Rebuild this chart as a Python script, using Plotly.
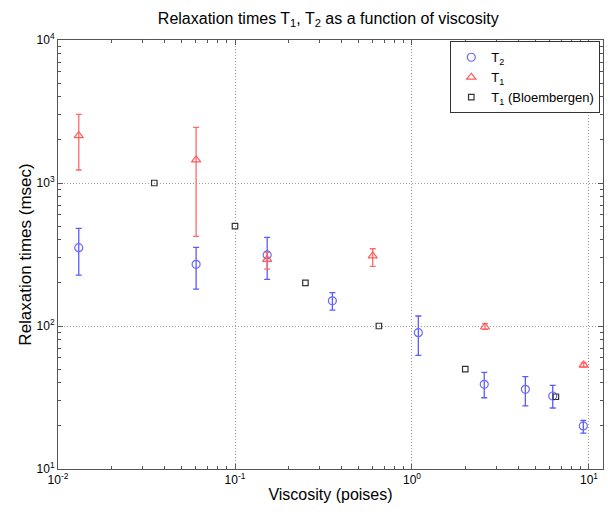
import plotly.graph_objects as go
import numpy as np

# T2 data
t2_x = [0.0131, 0.0603, 0.152, 0.355, 1.086, 2.56, 4.37, 6.24, 9.29]
t2_y = [353, 270, 314, 150, 89.8, 39.1, 36.1, 32.4, 20.0]
t2_hi = [482, 355, 417, 171, 117.5, 47.4, 44.2, 38.5, 21.9]
t2_lo = [227, 181, 212, 129, 62.4, 31.5, 27.6, 26.7, 17.8]

# T1 data
t1_x = [0.0131, 0.0603, 0.152, 0.600, 2.585, 9.33]
t1_y = [2143, 1449, 292, 309, 98.4, 53.3]
t1_hi = [3020, 2449, 327, 347, 103.8, 55.3]
t1_lo = [1233, 424, 250, 261, 94.8, 51.8]

# Bloembergen
b_x = [0.035, 0.1, 0.25, 0.65, 2.0, 6.5]
b_y = [1000, 500, 200, 100, 50, 32]

# tick labels
x_tickvals = [0.01, 0.1, 1, 10]
x_ticktext = ["10<sup>-2</sup>", "10<sup>-1</sup>", "10<sup>0</sup>", "10<sup>1</sup>"]
y_tickvals = [10, 100, 1000, 10000]
y_ticktext = ["10<sup>1</sup>", "10<sup>2</sup>", "10<sup>3</sup>", "10<sup>4</sup>"]
minor_mult = [2, 3, 4, 5, 6, 7, 8, 9]
x_minor = [m * d for d in x_tickvals for m in minor_mult]
y_minor = [m * d for d in y_tickvals[:-1] for m in minor_mult]

FONT = "Liberation Sans, Arial, sans-serif"

def err(y, hi, lo):
    return dict(type="data", symmetric=False,
                array=[h - v for h, v in zip(hi, y)],
                arrayminus=[v - l for v, l in zip(y, lo)])

fig = go.Figure()
e2 = err(t2_y, t2_hi, t2_lo)
e2.update(color="#5b5bff", thickness=1.3, width=3)
fig.add_trace(go.Scatter(x=t2_x, y=t2_y, mode="markers", name="T<sub>2</sub>",
                         marker=dict(symbol="circle-open", size=8, color="#6a6aff", line=dict(width=1.2)),
                         error_y=e2))
e1 = err(t1_y, t1_hi, t1_lo)
e1.update(color="#ff6a6a", thickness=1.3, width=3)
fig.add_trace(go.Scatter(x=t1_x, y=t1_y, mode="markers", name="T<sub>1</sub>",
                         marker=dict(symbol="triangle-up-open", size=8, color="#ff5a5a", line=dict(width=1.2)),
                         error_y=e1))
fig.add_trace(go.Scatter(x=b_x, y=b_y, mode="markers", name="T<sub>1</sub> (Bloembergen)",
                         marker=dict(symbol="square-open", size=5.5, color="#333333", line=dict(width=1.2))))

axis_common = dict(type="log", showline=True, mirror="ticks",
                   linecolor="#555555", linewidth=1, ticks="inside", ticklen=5, tickcolor="#555555",
                   showgrid=True, gridcolor="#9a9a9a", griddash="1px,2px", gridwidth=1,
                   zeroline=False, tickfont=dict(size=12, color="black", family=FONT))

fig.update_xaxes(**axis_common, range=[-2, np.log10(12)], tickvals=x_tickvals, ticktext=x_ticktext,
                 minor=dict(ticks="inside", ticklen=3, tickcolor="#555555", showgrid=False,
                            tickmode="array", tickvals=x_minor),
                 title=dict(text="Viscosity (poises)", font=dict(size=16, family=FONT, color="black"), standoff=2))
fig.update_yaxes(**axis_common, range=[1, 4], tickvals=y_tickvals, ticktext=y_ticktext,
                 minor=dict(ticks="inside", ticklen=3, tickcolor="#555555", showgrid=False,
                            tickmode="array", tickvals=y_minor),
                 title=dict(text="Relaxation times (msec)", font=dict(size=17, family=FONT, color="black"), standoff=0))

fig.update_layout(
    width=608, height=512,
    margin=dict(l=58, r=5, t=40, b=43, autoexpand=False),
    paper_bgcolor="white", plot_bgcolor="white",
    title=dict(text="Relaxation times T<sub>1</sub>, T<sub>2</sub> as a function of viscosity",
               x=0.54, xanchor="center", y=0.965, yanchor="middle",
               font=dict(size=16, family=FONT, color="black")),
    font=dict(family=FONT, color="black"),
    legend=dict(x=0.995, xanchor="right", y=0.997, yanchor="top", bgcolor="white",
                bordercolor="#333333", borderwidth=1, font=dict(size=13, family=FONT, color="black"),
                itemwidth=30),
    showlegend=True,
)

fig.write_html("out.html", config={"displayModeBar": False},
               post_script="document.body.style.margin='0';document.body.style.overflow='hidden';")
